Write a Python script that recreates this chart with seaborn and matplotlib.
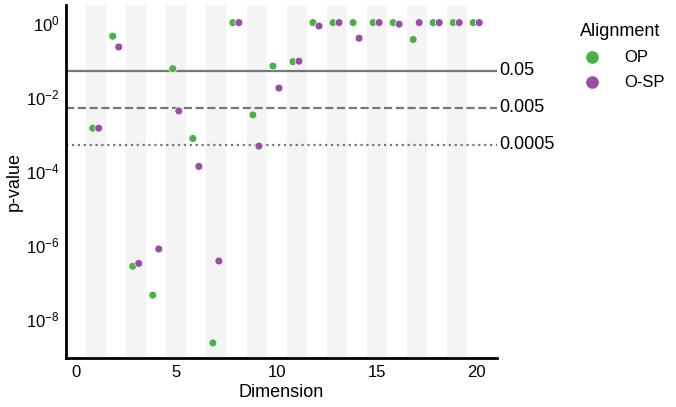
import numpy as np
import pandas as pd
import matplotlib
matplotlib.use("Agg")
import matplotlib.pyplot as plt
import seaborn as sns

dims = list(range(1, 21))
p_op = [1.4e-3, 0.43, 2.6e-7, 4.3e-8, 0.057, 7.4e-4, 2.2e-9, 1.0, 3.2e-3, 0.067,
        0.088, 1.0, 1.0, 1.0, 1.0, 1.0, 0.35, 1.0, 1.0, 1.0]
p_osp = [1.4e-3, 0.22, 3.1e-7, 7.6e-7, 4.1e-3, 1.3e-4, 3.6e-7, 1.0, 4.6e-4, 0.017,
         0.091, 0.81, 1.0, 0.38, 1.0, 0.91, 1.0, 1.0, 1.0, 1.0]
groups = ["OP", "O-SP"]
thresholds = [0.05, 0.005, 0.0005]
threshold_labels = ["0.05", "0.005", "0.0005"]
threshold_styles = ["-", "--", ":"]
palette = {"OP": "#4daf4a", "O-SP": "#984ea3"}
offsets = {"OP": -0.18, "O-SP": 0.12}

df = pd.DataFrame({
    "Dimension": dims * 2,
    "p-value": p_op + p_osp,
    "Alignment": ["OP"] * len(dims) + ["O-SP"] * len(dims),
})
df["xpos"] = df["Dimension"] + df["Alignment"].map(offsets)

sns.set_style("white")
plt.rcParams["font.family"] = ["Liberation Sans", "DejaVu Sans"]
plt.rcParams["text.color"] = "black"
plt.rcParams["axes.labelcolor"] = "black"
plt.rcParams["xtick.color"] = "black"
plt.rcParams["ytick.color"] = "black"
plt.rcParams["mathtext.fontset"] = "custom"
plt.rcParams["mathtext.rm"] = "Liberation Sans"
plt.rcParams["mathtext.it"] = "Liberation Sans:italic"
plt.rcParams["mathtext.bf"] = "Liberation Sans:bold"

fig = plt.figure(figsize=(6.76, 4.07), dpi=100)
ax = fig.add_axes([0.098, 0.12, 0.637, 0.868])

for d in dims[::2]:
    ax.axvspan(d - 0.5, d + 0.5, color="#f4f4f4", zorder=0, lw=0)

for t, lab, ls in zip(thresholds, threshold_labels, threshold_styles):
    ax.axhline(t, color="#777777", lw=1.6, ls=ls, zorder=1)
    ax.text(1.005, t, lab, transform=ax.get_yaxis_transform(), va="center",
            ha="left", fontsize=13)

sns.scatterplot(data=df, x="xpos", y="p-value", hue="Alignment", hue_order=groups,
                palette=palette, s=32, edgecolor="white", linewidth=0.5, ax=ax,
                zorder=3)
ax.set_yscale("log")
ax.set_ylim(10 ** -9.07, 10 ** 0.48)
ax.set_xlim(-0.5, 21)
ax.set_yticks([1, 1e-2, 1e-4, 1e-6, 1e-8])
ax.set_xticks([0, 5, 10, 15, 20])
ax.minorticks_off()
ax.tick_params(labelsize=12, length=0, pad=5)
ax.set_xlabel("Dimension", fontsize=13, labelpad=3)
ax.set_ylabel("p-value", fontsize=13, labelpad=2)
sns.despine(ax=ax)
for sp in ["left", "bottom"]:
    ax.spines[sp].set_color("black")
    ax.spines[sp].set_linewidth(2)

leg = ax.legend(title="Alignment", loc="upper left", bbox_to_anchor=(1.148, 0.99),
                frameon=False, fontsize=12, title_fontsize=13, markerscale=1.7,
                handletextpad=0.9, labelspacing=0.6)

fig.savefig("out.png", dpi=100)
